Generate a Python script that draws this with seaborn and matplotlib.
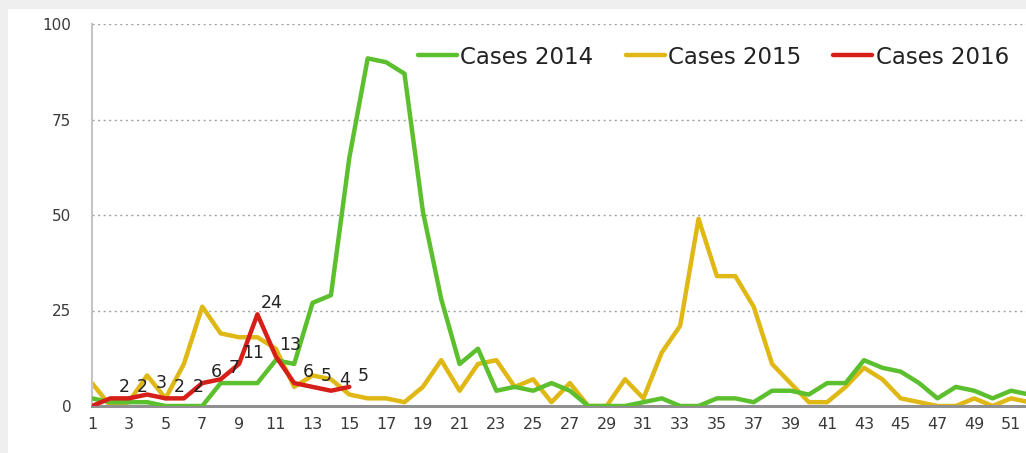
import matplotlib
matplotlib.use("Agg")
import matplotlib.pyplot as plt
import seaborn as sns
import numpy as np
from matplotlib.patches import Rectangle

weeks_2014 = list(range(1, 53))
cases_2014 = [2, 1, 1, 1, 0, 0, 0, 6, 6, 6, 12, 11, 27, 29, 65, 91, 90, 87, 51, 28,
              11, 15, 4, 5, 4, 6, 4, 0, 0, 0, 1, 2, 0, 0, 2, 2, 1, 4, 4, 3,
              6, 6, 12, 10, 9, 6, 2, 5, 4, 2, 4, 3]
weeks_2015 = list(range(1, 53))
cases_2015 = [6, 0, 1, 8, 2, 11, 26, 19, 18, 18, 15, 5, 8, 7, 3, 2, 2, 1, 5, 12,
              4, 11, 12, 5, 7, 1, 6, 0, 0, 7, 2, 14, 21, 49, 34, 34, 26, 11, 6, 1,
              1, 5, 10, 7, 2, 1, 0, 0, 2, 0, 2, 1]
weeks_2016 = list(range(1, 16))
cases_2016 = [0, 2, 2, 3, 2, 2, 6, 7, 11, 24, 13, 6, 5, 4, 5]
series_names = ["Cases 2014", "Cases 2015", "Cases 2016"]
y_ticks = [0, 25, 50, 75, 100]
x_ticks = list(range(1, 52, 2))

W, H = 1026, 453
fig = plt.figure(figsize=(W / 100, H / 100), dpi=100)
fig.patch.set_facecolor("#efefef")
fig.add_artist(Rectangle((8 / W, 0), 1, (H - 9) / H, transform=fig.transFigure,
                         facecolor="white", edgecolor="none", zorder=0))

sns.set_style("white")
plt.rcParams["font.family"] = ["DejaVu Sans"]

left = 92 / W
right = (92 + 52 * 18.38) / W
bottom = (H - 406) / H
top = (H - 24) / H
ax = fig.add_axes([left, bottom, right - left, top - bottom])
ax.set_facecolor("none")

sns.lineplot(x=weeks_2014, y=cases_2014, ax=ax, color="#5cbf2e", linewidth=2.9,
             label=series_names[0], zorder=3)
sns.lineplot(x=weeks_2015, y=cases_2015, ax=ax, color="#e0b815", linewidth=2.4,
             label=series_names[1], zorder=2)
sns.lineplot(x=weeks_2016, y=cases_2016, ax=ax, color="#d71f1a", linewidth=3.8,
             label=series_names[2], zorder=4)

for w, v in zip(weeks_2016, cases_2016):
    if v > 0:
        ax.annotate(str(v), (w, v), xytext=(10, 8), textcoords="offset points",
                    fontsize=12.5, color="#222222", ha="center", va="center", zorder=5)

ax.set_xlim(1, 53)
ax.set_ylim(0, 100)
ax.set_yticks(y_ticks)
ax.set_xticks(x_ticks)
ax.set_xticklabels([str(t) for t in x_ticks], fontsize=11.5, color="#3a3a3a")
ax.set_yticklabels([str(t) for t in y_ticks], fontsize=11, color="#3a3a3a")
ax.tick_params(axis="y", length=0, pad=15)
ax.tick_params(axis="x", length=0, pad=8)
ax.set_xlabel("")
ax.set_ylabel("")
for yv in y_ticks[1:]:
    ax.axhline(yv, color="#a0a0a0", linestyle=(0, (1.5, 2.5)), linewidth=1.0, zorder=1)
for s in ["top", "right"]:
    ax.spines[s].set_visible(False)
ax.spines["left"].set_color("#c4c4c4")
ax.spines["left"].set_linewidth(1.5)
ax.spines["bottom"].set_color("#909090")
ax.spines["bottom"].set_linewidth(2.2)

ax.legend_.remove()
handles, labels = ax.get_legend_handles_labels()
for h in handles:
    h.set_linewidth(3.2)
fig.legend(handles, labels, loc="center left", bbox_to_anchor=(418 / W, 1 - 57 / H),
           ncol=3, frameon=False, fontsize=16.5, handlelength=1.7, handletextpad=0.15,
           columnspacing=1.4, labelcolor="#222222", borderaxespad=0, borderpad=0)

fig.savefig("out.png", dpi=100)
